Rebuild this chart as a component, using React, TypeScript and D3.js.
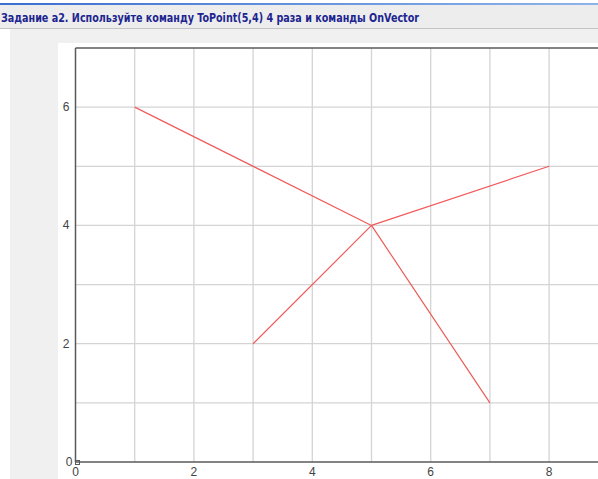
import React from "react";
import * as d3 from "d3";

const titleText = "Задание а2. Используйте команду ToPoint(5,4) 4 раза и команды OnVector";
const centerPoint = [5, 4];
const endX = [1, 8, 3, 7];
const endY = [6, 5, 2, 1];
const xTicks = [0, 2, 4, 6, 8];
const yTicks = [2, 4, 6];
const xGrid = [1, 2, 3, 4, 5, 6, 7, 8, 9];
const yGrid = [1, 2, 3, 4, 5, 6];

export default function App() {
  const W = 598, H = 479;
  const x = d3.scaleLinear().domain([0, 9]).range([75.5, 75.5 + 9 * 59.2]);
  const y = d3.scaleLinear().domain([0, 7]).range([462, 48]);
  const line = d3.line<[number, number]>().x(d => x(d[0])).y(d => y(d[1]));
  const grid = "#d4d4d4";
  const axis = "#5a5a5a";
  return (
    <svg width={W} height={H} style={{ position: "absolute", left: 0, top: 0 }} fontFamily="'Liberation Sans', Arial, sans-serif">
      <defs>
        <linearGradient id="bluebar" x1="0" x2="1" y1="0" y2="0">
          <stop offset="0" stopColor="#3a6fd0" />
          <stop offset="1" stopColor="#8fb4ea" />
        </linearGradient>
      </defs>
      <rect x={0} y={0} width={W} height={H} fill="#ffffff" />
      <rect x={0} y={3} width={W} height={2} fill="url(#bluebar)" />
      <rect x={0} y={5} width={W} height={23} fill="#ededed" />
      <line x1={0} x2={W} y1={28.5} y2={28.5} stroke="#c4c4c4" />
      <text x={1} y={21.5} fontSize={13} fontWeight="bold" fill="#1c2590" textLength={418} lengthAdjust="spacingAndGlyphs" fontFamily="'DejaVu Sans Condensed', 'DejaVu Sans', sans-serif" fontStretch="condensed">{titleText}</text>
      <rect x={10} y={29} width={W - 10} height={H - 29} fill="#f0f0f0" />
      <rect x={58} y={43} width={W - 58} height={H - 43} fill="#ffffff" />
      {xGrid.map(v => (
        <line key={"xg" + v} x1={x(v)} x2={x(v)} y1={y(7)} y2={y(0)} stroke={grid} strokeWidth={1.3} />
      ))}
      {yGrid.map(v => (
        <line key={"yg" + v} x1={x(0)} x2={W} y1={y(v)} y2={y(v)} stroke={grid} strokeWidth={1.3} />
      ))}
      <line x1={x(0)} x2={W} y1={y(7)} y2={y(7)} stroke={axis} strokeWidth={1.5} />
      <line x1={x(0)} x2={W} y1={y(0)} y2={y(0)} stroke={axis} strokeWidth={1.5} />
      <line x1={x(0)} x2={x(0)} y1={y(7)} y2={y(0)} stroke={axis} strokeWidth={1.5} />
      {endX.map((ex, i) => (
        <path key={"l" + i} d={line([[centerPoint[0], centerPoint[1]], [ex, endY[i]]]) || ""} fill="none" stroke="#f05a5a" strokeWidth={1.2} />
      ))}
      <rect x={x(0)} y={y(0) - 1.5} width={4} height={4} fill="none" stroke={axis} strokeWidth={1} />
      {yTicks.map(v => (
        <text key={"yt" + v} x={x(0) - 6} y={y(v) + 4} fontSize={12} fill="#444" textAnchor="end">{v}</text>
      ))}
      <text x={x(0) - 3} y={y(0) + 4} fontSize={12} fill="#444" textAnchor="end">0</text>
      {xTicks.map(v => (
        <text key={"xt" + v} x={x(v)} y={y(0) + 14} fontSize={12} fill="#444" textAnchor="middle">{v}</text>
      ))}
    </svg>
  );
}
